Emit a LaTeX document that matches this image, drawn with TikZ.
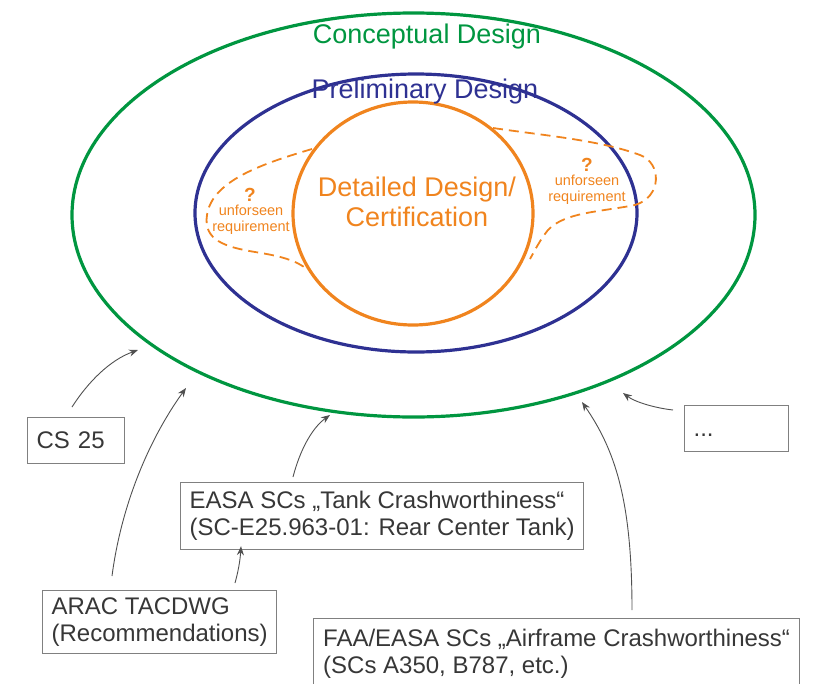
\documentclass[tikz,border=0pt]{standalone}
\usepackage{fontspec}
\setmainfont{Liberation Sans}
\usetikzlibrary{arrows.meta}
\definecolor{cgreen}{RGB}{0,150,64}
\definecolor{cblue}{RGB}{46,49,146}
\definecolor{corange}{RGB}{240,132,30}
\definecolor{ctext}{RGB}{55,55,55}
\definecolor{cbox}{RGB}{128,128,128}
\definecolor{carrow}{RGB}{80,80,80}
\begin{document}
\begin{tikzpicture}[x=1pt,y=1pt,
  ring/.style={line width=3.2pt},
  blob/.style={corange,line width=1.8pt,dash pattern=on 10pt off 6pt},
  title/.style={inner sep=0pt,font=\fontsize{27}{30}\selectfont,align=center},
  smalltxt/.style={inner sep=0pt,text=corange,font=\fontsize{14.5}{16}\selectfont,align=center},
  qmark/.style={inner sep=0pt,text=corange,font=\fontsize{19}{19}\selectfont\bfseries},
  box/.style={draw=cbox,line width=1.2pt,anchor=north west,text=ctext,
    font=\fontsize{24}{27}\selectfont,align=left,inner xsep=9pt,inner ysep=0pt},
  arr/.style={draw=carrow,line width=0.9pt,-{Stealth[length=9pt,width=7pt]}}]
\clip (0,0) rectangle (813,-683);
\useasboundingbox (0,0) rectangle (813,-683);

% rings
\draw[ring,cgreen] (413.5,-215) ellipse [x radius=341.5, y radius=202];
\draw[ring,cblue] (416,-213) ellipse [x radius=221, y radius=139];
\draw[ring,corange] (413,-213.5) ellipse [x radius=120, y radius=111.5];

% dashed blobs
\draw[blob] (312,-149) .. controls (265,-163) and (212,-180) .. (207,-215)
  .. controls (203,-240) and (225,-247) .. (255,-252)
  .. controls (280,-256) and (296,-260) .. (308,-270);
\draw[blob] (493,-128) .. controls (540,-135) and (600,-140) .. (640,-155)
  .. controls (662,-163) and (662,-197) .. (635,-205)
  .. controls (600,-212) and (565,-212) .. (548,-230)
  .. controls (540,-240) and (535,-250) .. (530,-259);

% titles
\node[title,text=cgreen] (tcon) at (427,-37) {Conceptual Design};
\node[title,text=cblue] (tpre) at (425,-92) {Preliminary Design};
\node[title,text=corange] (tdet) at (417,-202) {Detailed Design/\\Certification};

% unforeseen requirements
\node[qmark] (q1) at (250,-195) {?};
\node[smalltxt] (u1) at (251,-220) {unforseen\\requirement};
\node[qmark] (q2) at (587,-165) {?};
\node[smalltxt] (u2) at (587,-190) {unforseen\\requirement};

% boxes
\node[box,minimum width=97pt,minimum height=46pt,text width=79pt] (cs) at (27,-417) {CS 25};
\node[box,minimum width=104pt,minimum height=46pt,text width=86pt] (dots) at (684,-405) {...\vphantom{CS}};
\node[box,minimum width=398pt,minimum height=67pt] (easa) at (180,-482)
  {EASA SCs „Tank Crashworthiness“\\(SC-E25.963-01: Rear Center Tank)};
\node[box,minimum width=234pt,minimum height=63pt] (arac) at (42,-590)
  {ARAC TACDWG\\(Recommendations)};
\node[box,minimum width=486pt,minimum height=71pt] (faa) at (313,-618)
  {FAA/EASA SCs „Airframe Crashworthiness“\\(SCs A350, B787, etc.)};

% arrow targets on the conceptual-design ellipse
\coordinate (gcs) at (138,-350);
\coordinate (garac) at (186,-388);
\coordinate (geasa) at (330,-415);
\coordinate (gfaa) at (582,-402);
\coordinate (gdots) at (623,-393);

% connectors
\draw[arr] ([xshift=45pt,yshift=10pt]cs.north west) .. controls (88,-382) and (110,-360) .. (gcs);
\draw[arr] ([xshift=70pt,yshift=14pt]arac.north west) .. controls (122,-500) and (152,-435) .. (garac);
\draw[arr] ([xshift=193pt,yshift=7pt]arac.north west) .. controls (238,-572) and (240,-562) .. ([xshift=61pt,yshift=4pt]easa.south west);
\draw[arr] ([xshift=113pt,yshift=5pt]easa.north west) .. controls (300,-450) and (312,-428) .. (geasa);
\draw[arr] ([xshift=319pt,yshift=8pt]faa.north west) .. controls (632,-500) and (615,-450) .. (gfaa);
\draw[arr] ([xshift=-11pt,yshift=-5pt]dots.north west) .. controls (655,-408) and (635,-402) .. (gdots);
\end{tikzpicture}
\end{document}
